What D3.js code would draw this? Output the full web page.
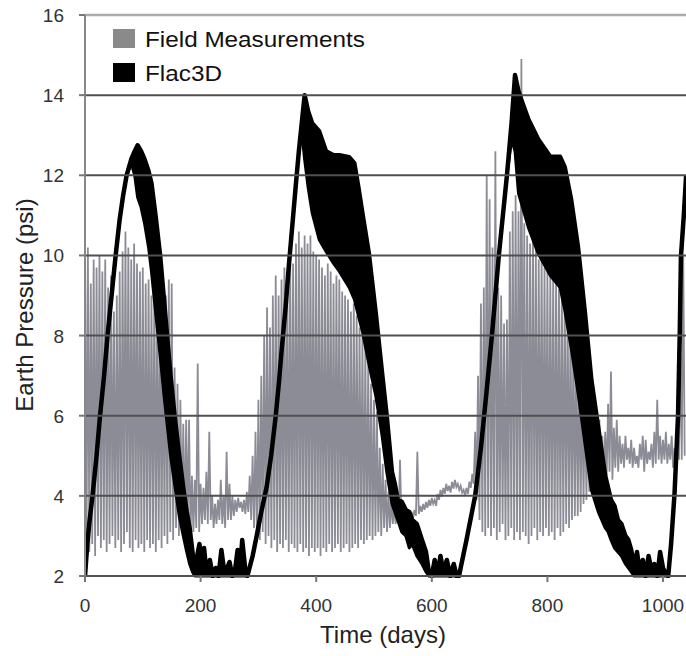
<!DOCTYPE html>
<html><head><meta charset="utf-8">
<script src="https://cdn.jsdelivr.net/npm/d3@7/dist/d3.min.js"></script>
<style>body{margin:0;background:#fff;} svg{display:block;font-family:"Liberation Sans",Arial,sans-serif;}</style>
</head><body><svg id="c" width="686" height="656"></svg>
<script>
// ---------- data ----------
const yTicks = [2, 4, 6, 8, 10, 12, 14, 16];
const xTicks = [0, 200, 400, 600, 800, 1000];
const seriesNames = ["Field Measurements", "Flac3D"];
const xTitle = "Time (days)";
const yTitle = "Earth Pressure (psi)";

// Field measurements: one spike every 5 days (peak and trough of each spike)
const fieldStart = 0, fieldStep = 5;
const fieldHigh = [
  10.4,10.2,9.3,9.9,9.7,10.0,9.6,9.9,9.2,9.5,
  8.6,9.0,9.6,10.1,10.6,10.2,9.9,10.3,9.8,9.6,
  9.7,9.3,9.4,9.0,9.3,8.8,8.9,8.7,9.0,9.4,
  9.3,7.2,6.8,6.4,5.8,5.9,5.9,4.5,4.4,7.3,
  4.3,4.2,4.6,5.6,4.0,3.8,3.9,4.4,4.0,5.1,
  4.3,4.0,3.9,3.95,3.85,3.9,4.1,4.5,5.0,5.6,
  6.4,7.0,8.0,8.7,8.2,9.0,9.5,9.0,9.4,9.7,
  9.5,10.0,9.8,10.3,10.6,10.2,10.5,10.3,10.5,10.1,
  10.0,9.9,9.7,9.5,9.8,9.6,9.3,9.5,9.4,9.1,
  9.0,8.9,8.6,8.8,8.5,8.2,8.0,7.7,7.3,6.8,
  6.4,6.1,5.2,4.8,4.4,4.1,3.9,3.7,3.6,4.9,
  3.45,3.5,3.55,3.6,3.65,5.1,3.75,3.8,3.85,3.9,
  3.95,3.9,4.05,4.15,4.2,4.3,4.25,4.35,4.4,4.3,
  4.25,4.15,4.2,4.35,4.55,5.6,7.0,8.8,9.2,12.0,
  11.4,10.2,12.6,9.2,9.0,8.3,8.4,10.6,11.1,11.5,
  11.1,14.9,10.8,10.5,10.3,10.6,10.2,9.9,10.0,9.7,
  9.6,9.5,9.6,9.4,9.3,9.2,9.0,8.8,8.4,8.06,
  7.7,7.4,7.0,6.8,6.4,6.2,6.1,6.0,5.9,5.5,
  5.6,6.3,7.1,5.7,5.9,5.5,5.3,5.5,5.2,5.4,
  5.2,5.0,5.3,5.5,5.4,5.1,5.3,5.6,6.4,5.5,
  5.4,5.6,5.3,5.5,5.2,5.4,7.5,10.0
];
const fieldLow = [
  2.3,2.6,2.8,2.5,3.0,2.7,2.9,2.6,2.8,3.0,
  2.7,2.9,2.6,2.8,3.1,2.7,2.6,2.9,2.7,2.8,
  2.6,2.9,2.7,2.8,2.6,2.9,2.7,3.0,2.8,3.1,
  2.9,3.2,3.0,3.3,3.1,3.2,3.0,3.1,3.2,3.1,
  3.3,3.4,3.3,3.4,3.2,3.3,3.4,3.3,3.2,3.4,
  3.4,3.5,3.6,3.7,3.6,3.55,3.6,3.4,3.2,3.0,
  2.9,3.1,2.8,3.0,2.7,2.9,2.6,2.8,2.7,2.9,
  2.6,2.8,2.7,2.6,2.8,2.6,2.7,2.5,2.7,2.6,
  2.7,2.5,2.7,2.6,2.8,2.6,2.7,2.8,2.6,2.7,
  2.8,2.6,2.7,2.8,2.7,2.9,2.8,2.9,3.0,2.9,
  3.0,3.1,3.0,3.2,3.1,3.2,3.3,3.3,3.4,3.4,
  3.3,3.35,3.4,3.45,3.5,3.55,3.6,3.65,3.7,3.75,
  3.8,3.75,3.9,3.98,4.05,4.12,4.08,4.18,4.22,4.15,
  4.08,4.0,4.05,4.2,4.3,3.9,3.4,3.1,3.0,3.2,
  3.0,3.2,2.9,3.1,3.3,2.9,3.0,3.2,2.9,3.1,
  2.9,3.1,3.0,2.8,3.0,3.2,2.9,3.1,3.0,3.2,
  3.0,3.1,2.9,3.2,3.0,3.1,3.3,3.2,3.4,3.5,
  3.5,3.6,3.8,3.9,4.1,4.0,4.2,4.3,4.2,4.4,
  4.5,4.6,4.4,4.7,4.6,4.8,4.7,4.9,4.8,4.7,
  4.8,4.7,4.9,4.6,4.8,4.9,4.7,4.8,4.9,4.8,
  4.9,4.8,4.9,4.7,4.8,4.9,4.9,5.0
];

// Flac3D: upper and lower envelope of the daily oscillation
const flacDays = [
  0,4,8,13,20,26,33,39,46,53,60,66,72,80,86,91,97,103,110,115,122,130,136,142,148,155,163,170,176,181,186,190,
  194,198,202,206,210,216,221,226,231,236,241,246,250,255,260,264,268,272,277,
  281,290,297,305,314,322,330,336,340,347,353,359,365,370,375,380,
  386,393,405,417,430,440,457,466,473,480,491,503,514,522,531,536,541,548,555,561,566,574,583,590,595,
  600,605,610,615,620,626,632,638,643,
  647,660,675,685,694,704,716,730,738,744,
  750,757,767,784,805,822,830,841,853,865,876,888,900,905,910,916,922,928,935,940,945,950,
  955,960,965,970,975,980,985,990,995,1000,1005,
  1009,1014,1020,1026,1029,1031,1036,1040
];
const flacHigh = [
  2.0,2.8,3.4,4.0,5.0,6.0,7.0,8.0,9.0,10.0,10.9,11.5,12.0,12.4,12.6,12.75,12.6,12.4,12.1,11.8,11.0,10.0,9.0,8.0,7.0,6.0,5.0,4.2,3.6,3.2,2.6,2.1,
  2.5,2.8,2.2,2.7,2.1,2.4,2.0,2.2,2.0,2.65,2.1,2.2,2.35,2.0,2.2,2.65,2.1,2.9,2.2,
  2.0,2.5,3.0,3.6,4.2,5.0,6.0,6.9,7.6,8.7,9.8,10.8,11.8,12.6,13.3,14.0,
  13.6,13.3,13.1,12.6,12.5,12.5,12.45,12.3,11.7,11.05,10.06,8.56,7.06,6.0,4.6,4.3,3.9,3.85,3.65,3.6,3.4,3.3,2.9,2.6,2.1,
  2.0,2.4,2.05,2.5,2.1,2.4,2.0,2.3,2.0,
  2.0,2.9,4.0,5.2,6.5,8.0,10.0,12.0,13.3,14.5,
  14.1,13.8,13.4,12.9,12.46,12.46,12.2,11.4,10.2,8.56,6.9,5.7,4.5,4.2,3.9,3.75,3.4,3.3,3.0,2.9,2.65,2.2,
  2.6,2.1,2.4,2.0,2.5,2.15,2.3,2.0,2.6,2.2,2.05,
  2.0,2.8,4.07,6.0,8.06,9.96,11.0,12.0
];
const flacLow = [
  2.0,2.8,3.4,4.0,5.0,6.0,7.0,8.0,9.0,10.0,10.9,11.5,12.0,12.3,12.0,11.45,11.2,10.8,10.2,9.6,8.6,7.5,6.6,5.8,5.0,4.3,3.5,3.0,2.6,2.3,2.1,2.0,
  2.0,2.0,2.0,2.0,2.0,2.0,2.0,2.0,2.0,2.0,2.0,2.0,2.0,2.0,2.0,2.0,2.0,2.0,2.0,
  2.0,2.5,3.0,3.6,4.2,5.0,6.0,6.9,7.6,8.7,9.8,10.8,11.8,12.6,13.1,12.4,
  11.7,11.06,10.4,10.1,9.8,9.6,9.2,8.9,8.5,8.1,7.3,6.5,5.5,4.6,3.8,3.6,3.4,3.1,3.0,2.7,2.8,2.5,2.3,2.1,2.0,
  2.0,2.0,2.0,2.0,2.0,2.0,2.0,2.0,2.0,
  2.0,2.9,4.0,5.2,6.5,8.0,10.0,12.0,12.9,12.6,
  11.55,11.2,10.7,10.05,9.5,9.2,8.64,7.7,6.57,5.3,4.15,3.6,3.2,3.1,2.9,2.7,2.6,2.5,2.3,2.2,2.1,2.0,
  2.0,2.0,2.0,2.0,2.0,2.0,2.0,2.0,2.0,2.0,2.0,
  2.0,2.8,4.07,6.0,8.06,9.96,11.0,12.0
];

// ---------- chart ----------
const svg = d3.select("#c");
const x = d3.scaleLinear().domain([0, 1000]).range([85, 663]);
const y = d3.scaleLinear().domain([2, 16]).range([576, 15]);

svg.append("defs").append("clipPath").attr("id", "clip")
  .append("rect").attr("x", 85).attr("y", 10).attr("width", 620).attr("height", 568);

// field measurements (zigzag of spikes)
const fieldPts = [];
fieldHigh.forEach((h, i) => {
  const d = fieldStart + i * fieldStep;
  fieldPts.push([d, h]);
  fieldPts.push([d + fieldStep / 2, fieldLow[i]]);
});
const plot = svg.append("g").attr("clip-path", "url(#clip)");
plot.append("path")
  .attr("d", d3.line().x(p => x(p[0])).y(p => y(p[1]))(fieldPts))
  .attr("fill", "none").attr("stroke", "#8c8c96").attr("stroke-width", 1.8)
  .attr("stroke-linejoin", "miter");

// gridlines
svg.append("g").selectAll("line").data(yTicks.filter(v => v > 2 && v < 16)).join("line")
  .attr("x1", 85).attr("x2", 686).attr("y1", d => y(d)).attr("y2", d => y(d))
  .attr("stroke", "#505050").attr("stroke-width", 2);

// Flac3D band
const flac = flacDays.map((d, i) => ({d, h: flacHigh[i], l: flacLow[i]}));
plot.append("path")
  .attr("d", d3.area().x(p => x(p.d)).y0(p => y(p.l)).y1(p => y(p.h))(flac))
  .attr("fill", "#000");
plot.append("path")
  .attr("d", d3.line().x(p => x(p.d)).y(p => y(p.h))(flac))
  .attr("fill", "none").attr("stroke", "#000").attr("stroke-width", 4.5).attr("stroke-linejoin", "round");
plot.append("path")
  .attr("d", d3.line().x(p => x(p.d)).y(p => y(p.l))(flac))
  .attr("fill", "none").attr("stroke", "#000").attr("stroke-width", 3).attr("stroke-linejoin", "round");

// frame / axes
svg.append("line").attr("x1", 85).attr("x2", 686).attr("y1", y(16)).attr("y2", y(16))
  .attr("stroke", "#aaa").attr("stroke-width", 2.5);
svg.append("line").attr("x1", 85).attr("x2", 686).attr("y1", y(2)).attr("y2", y(2))
  .attr("stroke", "#505050").attr("stroke-width", 2);
svg.append("line").attr("x1", 85).attr("x2", 85).attr("y1", y(16)).attr("y2", y(2))
  .attr("stroke", "#888").attr("stroke-width", 2);

// y ticks and labels
const yg = svg.append("g");
yg.selectAll("line").data(yTicks).join("line")
  .attr("x1", 79).attr("x2", 85).attr("y1", d => y(d)).attr("y2", d => y(d))
  .attr("stroke", "#777").attr("stroke-width", 2);
yg.selectAll("text").data(yTicks).join("text")
  .attr("x", 64).attr("y", d => y(d) + 7).attr("text-anchor", "end")
  .attr("font-size", 19).attr("fill", "#333").text(d => d);

// x ticks and labels
const xg = svg.append("g");
xg.selectAll("line").data(xTicks).join("line")
  .attr("x1", d => x(d)).attr("x2", d => x(d)).attr("y1", 576).attr("y2", 582)
  .attr("stroke", "#777").attr("stroke-width", 2);
xg.selectAll("text").data(xTicks).join("text")
  .attr("x", d => x(d)).attr("y", 612).attr("text-anchor", "middle")
  .attr("font-size", 19).attr("fill", "#333").text(d => d);

// axis titles
svg.append("text").attr("x", 383).attr("y", 643).attr("text-anchor", "middle")
  .attr("font-size", 24).attr("fill", "#222").text(xTitle);
svg.append("text").attr("transform", "translate(33,305) rotate(-90)").attr("text-anchor", "middle")
  .attr("font-size", 24).attr("fill", "#222").text(yTitle);

// legend
const lg = svg.append("g");
const legColors = ["#8a8a8a", "#000"];
const legWidths = [220, 77];
seriesNames.forEach((n, i) => {
  lg.append("rect").attr("x", 113).attr("y", 29 + i * 34).attr("width", 22).attr("height", 19)
    .attr("fill", legColors[i]);
  lg.append("text").attr("x", 145).attr("y", 47 + i * 34).attr("font-size", 22)
    .attr("textLength", legWidths[i]).attr("lengthAdjust", "spacingAndGlyphs")
    .attr("fill", "#111").text(n);
});
</script></body></html>
